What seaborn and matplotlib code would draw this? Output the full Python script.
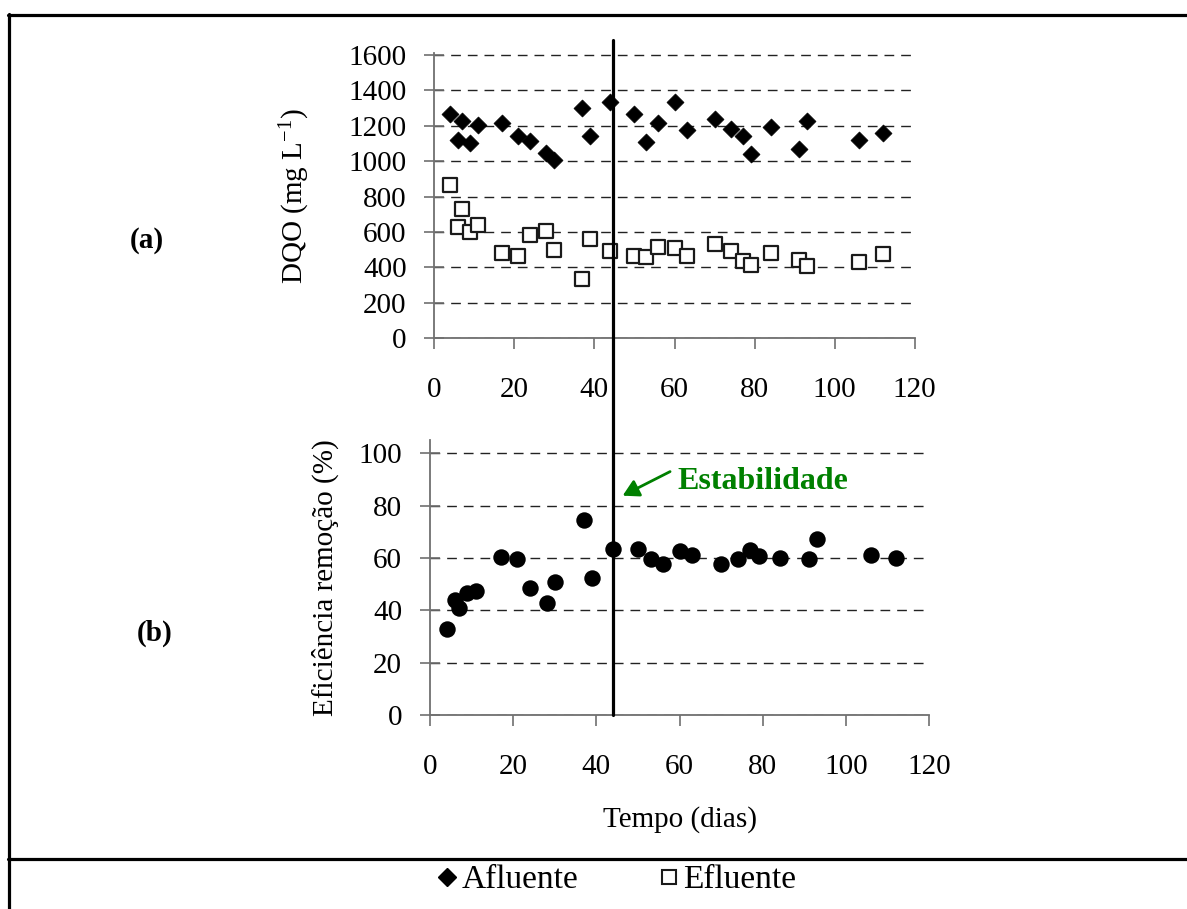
import numpy as np
import pandas as pd
import matplotlib
matplotlib.use("Agg")
import matplotlib.pyplot as plt
import seaborn as sns
from matplotlib.lines import Line2D
from matplotlib import transforms

# ---------------- data ----------------
dias = [4, 6, 7, 9, 11, 17, 21, 24, 28, 30, 37, 39, 44, 50, 53, 56, 60, 63,
        70, 74, 77, 79, 84, 91, 93, 106, 112]
afluente = [1267, 1120, 1227, 1105, 1207, 1218, 1143, 1116, 1048, 1005, 1299,
            1143, 1333, 1267, 1109, 1218, 1333, 1176, 1237, 1184, 1143, 1043,
            1192, 1069, 1225, 1118, 1160]
efluente = [864, 629, 730, 599, 640, 484, 467, 582, 608, 499, 333, 559, 491,
            467, 457, 516, 508, 467, 533, 493, 435, 416, 484, 442, 408, 433, 476]
eficiencia = [32.7, 43.8, 41.0, 46.6, 47.3, 60.5, 59.6, 48.4, 42.8, 50.7, 74.5,
              52.3, 63.4, 63.4, 59.6, 57.8, 62.8, 61.3, 57.8, 59.6, 63.0, 60.8,
              60.1, 59.6, 67.4, 61.3, 60.1]
dia_estabilidade = 44
xticks = [0, 20, 40, 60, 80, 100, 120]
yticks_dqo = [0, 200, 400, 600, 800, 1000, 1200, 1400, 1600]
yticks_ef = [0, 20, 40, 60, 80, 100]

sns.set_style("white")
plt.rcParams['font.family'] = ['Liberation Serif', 'DejaVu Serif']
plt.rcParams['mathtext.fontset'] = 'custom'
plt.rcParams['mathtext.rm'] = 'Liberation Serif'
for k in ['text.color', 'axes.labelcolor', 'xtick.labelcolor', 'ytick.labelcolor']:
    plt.rcParams[k] = 'black'

W, H = 1187, 909
fig = plt.figure(figsize=(W / 100, H / 100), dpi=100)
ax1 = fig.add_axes([434.3 / W, 1 - 338.3 / H, 480.4 / W, (338.3 - 53.2) / H])
ax2 = fig.add_axes([430 / W, 1 - 715 / H, 499.3 / W, (715 - 440.2) / H])

FS = 21
spine_col = '#707070'

# scatter points
sns.scatterplot(x=dias, y=afluente, marker='D', s=75, color='black',
                edgecolor='black', linewidth=0.5, ax=ax1, zorder=4)
sns.scatterplot(x=dias, y=efluente, marker='s', s=95, color='white',
                edgecolor='#1a1a1a', linewidth=1.6, ax=ax1, zorder=4)
sns.scatterplot(x=dias, y=eficiencia, marker='o', s=140, color='black',
                linewidth=0, ax=ax2, zorder=4)

for ax, yt, ylim in [(ax1, yticks_dqo, (0, 1610)), (ax2, yticks_ef, (0, 105))]:
    ax.set_xlim(0, 120)
    ax.set_ylim(*ylim)
    ax.set_xticks(xticks)
    ax.set_yticks(yt)
    for s in ['top', 'right']:
        ax.spines[s].set_visible(False)
    for s in ['left', 'bottom']:
        ax.spines[s].set_color(spine_col)
        ax.spines[s].set_linewidth(1.3)
    ax.yaxis.grid(True, linestyle=(0, (7, 5)), color='#222222', linewidth=1.0)
    ax.xaxis.grid(False)
    ax.set_axisbelow(True)
    ax.tick_params(axis='y', direction='inout', length=14, width=1.2,
                   color=spine_col, labelsize=FS, pad=13, left=True,
                   labelcolor='black')
    ax.tick_params(axis='x', direction='out', length=8, width=1.2,
                   color=spine_col, labelsize=FS, pad=20, bottom=True,
                   labelcolor='black')
    ax.patch.set_alpha(0)

ax1.set_ylabel('DQO (mg $\\mathregular{L^{-1}}$)', fontsize=FS, color='black')
ax1.yaxis.set_label_coords((295 - 434.3) / 480.4, 0.5)
ax1.yaxis.label.set_va('center')
ax2.set_ylabel('Eficiência remoção (%)', fontsize=FS, color='black')
ax2.yaxis.set_label_coords((325 - 430) / 499.3, 0.5)
ax2.yaxis.label.set_va('center')
ax2.set_xlabel('Tempo (dias)', fontsize=FS, color='black')
ax2.xaxis.set_label_coords(0.5, (715 - 820) / (715 - 440.2))
ax2.xaxis.label.set_va('center')
ax1.set_xlabel('')

fig.text(147 / W, 1 - 240 / H, '(a)', fontsize=FS, fontweight='bold',
         ha='center', va='center', color='black')
fig.text(155 / W, 1 - 633 / H, '(b)', fontsize=FS, fontweight='bold',
         ha='center', va='center', color='black')

# stability line spanning both panels
blend = transforms.blended_transform_factory(ax2.transData, fig.transFigure)
fig.add_artist(Line2D([dia_estabilidade, dia_estabilidade],
                      [1 - 715 / H, 1 - 40 / H], transform=blend,
                      color='black', linewidth=2.3, zorder=5))

green = '#008000'
ax2.annotate('', xy=(46.3, 83.8), xytext=(57.7, 93.0),
             arrowprops=dict(arrowstyle='-|>,head_length=0.8,head_width=0.45',
                             color=green, lw=2, mutation_scale=12,
                             shrinkA=0, shrinkB=0), annotation_clip=False)
ax2.text(59.4, 89.1, 'Estabilidade', color=green, fontsize=23,
         fontweight='bold', ha='left', va='center')

# legend
handles = [Line2D([], [], marker='D', linestyle='none', markersize=9,
                  markerfacecolor='black', markeredgecolor='black'),
           Line2D([], [], marker='s', linestyle='none', markersize=10.5,
                  markerfacecolor='white', markeredgecolor='#1a1a1a',
                  markeredgewidth=1.5)]
fig.legend(handles, ['Afluente', 'Efluente'], loc='center',
           bbox_to_anchor=(615 / W, 1 - 880 / H), ncol=2, frameon=False,
           fontsize=24, handletextpad=0.05, columnspacing=2.3,
           handlelength=0.8, labelcolor='black')

# outer frame
fl = dict(color='black', linewidth=2.3, transform=fig.transFigure)
fig.add_artist(Line2D([8.5 / W, 8.5 / W], [0, 1 - 14 / H], **fl))
fig.add_artist(Line2D([7.5 / W, 1], [1 - 14.5 / H, 1 - 14.5 / H], **fl))
fig.add_artist(Line2D([7.5 / W, 1], [1 - 859 / H, 1 - 859 / H], **fl))

fig.savefig('out.png', dpi=100, facecolor='white')
